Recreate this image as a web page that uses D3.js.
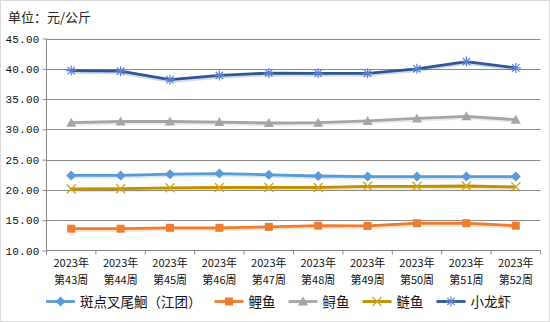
<!DOCTYPE html>
<html><head><meta charset="utf-8">
<script src="https://cdn.jsdelivr.net/npm/d3@7"></script>
<style>
html,body{margin:0;padding:0;background:#fff;}
svg{display:block;}
</style></head>
<body>
<svg id="c" width="550" height="322"></svg>
<script>
const weeks = ["第43周","第44周","第45周","第46周","第47周","第48周","第49周","第50周","第51周","第52周"];
const yearLabel = "2023年";
const yTicks = [10,15,20,25,30,35,40,45];
const seriesNames = ["斑点叉尾鮰（江团）","鲤鱼","鲟鱼","鲢鱼","小龙虾"];
const catfish = [22.4,22.4,22.6,22.7,22.5,22.3,22.2,22.2,22.2,22.2];
const carp = [13.6,13.6,13.75,13.75,13.9,14.1,14.05,14.5,14.5,14.1];
const sturgeon = [31.1,31.3,31.3,31.2,31.05,31.1,31.4,31.8,32.15,31.6];
const silverCarp = [20.15,20.2,20.35,20.4,20.4,20.4,20.6,20.6,20.65,20.5];
const crayfish = [39.7,39.6,38.2,38.9,39.3,39.25,39.25,40.0,41.2,40.15];
const seriesValues = [catfish, carp, sturgeon, silverCarp, crayfish];
const colors = ["#5B9BD5","#ED7D31","#A5A5A5","#BF9000","#2F5597"];
const markerColors = ["#5B9BD5","#ED7D31","#A5A5A5","#D4A21A","#5A80D6"];
const markers = ["diamond","square","triangle","x","asterisk"];

(function(){
const svg = d3.select("#c");
const W=550,H=322;
svg.append("rect").attr("x",0.5).attr("y",0.5).attr("width",W-1).attr("height",H-1)
  .attr("fill","#fff").attr("stroke","#D9D9D9");

const pL=46.5, pR=540.5, pT=38.5, pB=250.5;
const x = d3.scaleBand().domain(weeks).range([pL,pR]).padding(0);
const y = d3.scaleLinear().domain([10,45]).range([pB,pT]);
const grid="#898989";

svg.append("text").attr("x",8).attr("y",22).attr("font-family","Noto Sans CJK SC").attr("font-size",13)
  .attr("fill","#222").text("单位：元/公斤");

svg.append("g").selectAll("line").data(yTicks.filter(d=>d>10)).join("line")
  .attr("x1",pL).attr("x2",pR).attr("y1",d=>Math.round(y(d))+0.5).attr("y2",d=>Math.round(y(d))+0.5)
  .attr("stroke",grid).attr("stroke-width",1);

const ya = svg.append("g").attr("transform",`translate(${pL},0)`)
  .call(d3.axisLeft(y).tickValues(yTicks).tickFormat(d3.format(".2f")).tickSize(4).tickPadding(3));
ya.select(".domain").attr("stroke",grid).attr("d",`M0,${pT}V${pB}`);
ya.selectAll(".tick line").attr("stroke",grid);
ya.selectAll(".tick text").attr("font-family","Liberation Mono, DejaVu Sans Mono, monospace")
  .attr("font-size",11).attr("fill","#111").attr("letter-spacing",0.2);

const xa = svg.append("g").attr("transform",`translate(0,${pB})`);
xa.append("line").attr("x1",pL).attr("x2",pR).attr("y1",0).attr("y2",0).attr("stroke",grid);
const bounds = weeks.map(w=>x(w)).concat([x(weeks[weeks.length-1])+x.bandwidth()]);
xa.selectAll("line.tk").data(bounds).join("line").attr("class","tk")
  .attr("x1",d=>d).attr("x2",d=>d).attr("y1",0).attr("y2",4).attr("stroke",grid);
const xl = xa.selectAll("text").data(weeks).join("text")
  .attr("x",d=>x(d)+x.bandwidth()/2).attr("text-anchor","middle")
  .attr("font-family","Noto Sans CJK SC").attr("font-size",11).attr("fill","#111");
xl.append("tspan").attr("x",d=>x(d)+x.bandwidth()/2).attr("y",16.5).text(yearLabel);
xl.append("tspan").attr("x",d=>x(d)+x.bandwidth()/2).attr("y",33.5).text(d=>d);

function drawMarker(g, type, color){
  if(type==="diamond"){
    g.append("path").attr("d","M0,-5L5,0L0,5L-5,0Z").attr("fill",color);
  } else if(type==="square"){
    g.append("rect").attr("x",-4).attr("y",-4).attr("width",8).attr("height",8).attr("fill",color);
  } else if(type==="triangle"){
    g.append("path").attr("d","M0,-5L5,4L-5,4Z").attr("fill",color);
  } else if(type==="x"){
    g.append("path").attr("d","M-4.5,-4.5L4.5,4.5M-4.5,4.5L4.5,-4.5").attr("stroke",color).attr("stroke-width",1.3).attr("fill","none");
  } else {
    g.append("path").attr("d","M-5,0H5M0,-5V5M-3.7,-3.7L3.7,3.7M-3.7,3.7L3.7,-3.7").attr("stroke",color).attr("stroke-width",1.2).attr("fill","none");
  }
}

const line = d3.line().x((d,i)=>x(weeks[i])+x.bandwidth()/2).y(d=>y(d));
seriesValues.forEach((vals,si)=>{
  const g = svg.append("g");
  g.append("path").attr("d",line(vals)).attr("transform","translate(0,1.2)")
    .attr("fill","none").attr("stroke",colors[si]).attr("stroke-opacity",0.22).attr("stroke-width",4).attr("stroke-linejoin","round");
  g.append("path").attr("d",line(vals)).attr("fill","none").attr("stroke",colors[si]).attr("stroke-width",2.8).attr("stroke-linejoin","round");
  vals.forEach((v,i)=>{
    const m = g.append("g").attr("transform",`translate(${x(weeks[i])+x.bandwidth()/2},${y(v)})`);
    drawMarker(m, markers[si], markerColors[si]);
  });
});

const lg = svg.append("g").attr("transform","translate(0,301.5)");
let cx = 46;
seriesNames.forEach((name,si)=>{
  const it = lg.append("g").attr("transform",`translate(${cx},0)`);
  it.append("line").attr("x1",0).attr("x2",29).attr("y1",0).attr("y2",0).attr("stroke",colors[si]).attr("stroke-width",2.8);
  const m = it.append("g").attr("transform","translate(14.5,0)");
  drawMarker(m, markers[si], markerColors[si]);
  const t = it.append("text").attr("x",34).attr("y",5).attr("font-family","Noto Sans CJK SC")
    .attr("font-size",13.5).attr("fill","#111").text(name);
  cx += 34 + t.node().getComputedTextLength() + 13;
});
})();
</script>
</body></html>
